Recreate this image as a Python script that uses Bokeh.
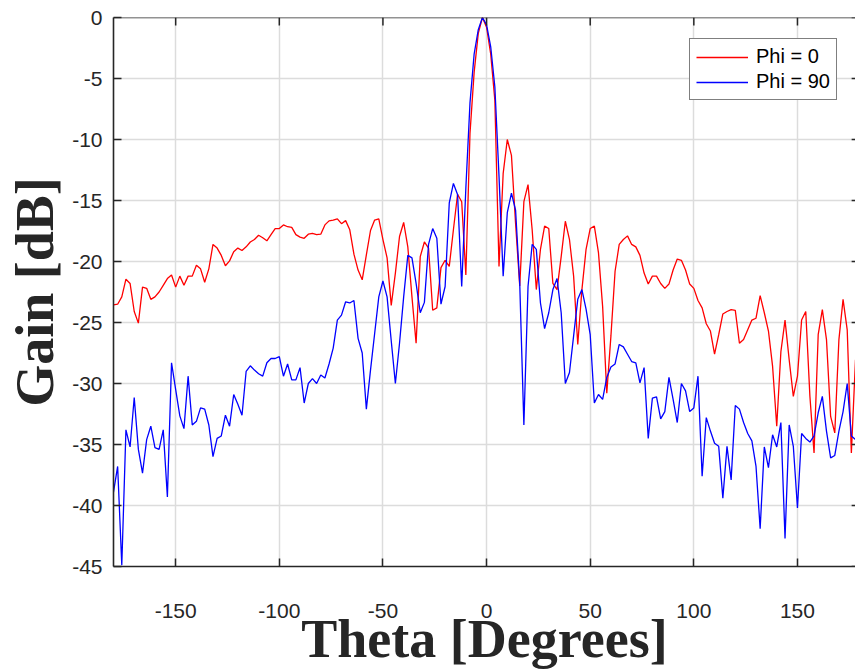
from bokeh.plotting import figure
from bokeh.models import Range1d, FixedTicker, Legend, LegendItem, Span, PrintfTickFormatter
from bokeh.embed import file_html
from bokeh.resources import INLINE

theta = list(range(-180, 181, 2))

gain_phi0 = [
    -23.55, -23.5, -22.9, -21.45, -21.8, -24.1, -25.05, -22.1, -22.2, -23.1,
    -22.9, -22.5, -21.95, -21.4, -21.1, -22.1, -21.2, -21.95, -21.2, -21.2,
    -20.3, -20.6, -21.7, -20.6, -18.6, -18.9, -19.5, -20.35, -19.95, -19.2,
    -18.9, -19.1, -18.8, -18.4, -18.2, -17.85, -18.05, -18.3, -17.8, -17.3,
    -17.3, -17.0, -17.15, -17.2, -17.8, -18.0, -18.1, -17.76, -17.7, -17.8,
    -17.76, -17.0, -16.67, -16.6, -16.5, -16.9, -16.65, -17.4, -19.4, -20.7,
    -21.5, -19.45, -17.46, -16.6, -16.5, -18.2, -19.7, -23.6, -20.95, -17.95,
    -16.8, -18.8, -22.9, -26.7, -19.6, -18.4, -18.9, -24.0, -23.8, -20.5,
    -19.9, -20.4, -17.4, -14.5, -15.1, -21.1, -9.5, -4.5, -1.3, 0.0,
    -0.8, -3.0, -6.8, -20.4, -12.8, -10.0, -11.3, -16.9, -22.0, -15.1,
    -13.7, -17.4, -22.3, -19.0, -17.1, -17.3, -21.8, -22.3, -19.6, -16.7,
    -18.2, -21.2, -26.8, -22.3, -19.0, -17.3, -17.1, -19.3, -23.7, -30.8,
    -26.1, -20.8, -18.6, -18.2, -17.9, -18.6, -18.8, -19.5, -20.95, -21.85,
    -21.2, -21.2, -21.8, -22.2, -21.85, -20.7, -19.8, -19.9, -20.7, -21.85,
    -22.2, -23.2, -23.8, -25.1, -25.7, -27.6, -26.0, -24.3, -24.1, -23.95,
    -24.0, -26.7, -26.4, -25.6, -24.8, -24.65, -22.8, -24.2, -25.7, -28.6,
    -33.5, -27.4, -24.8, -28.05, -31.05, -29.4, -24.8, -24.1, -31.05, -35.7,
    -26.0, -23.95, -26.4, -32.7, -34.05, -26.4, -23.1, -25.6, -35.7, -28.05,
    -29.0,
]

gain_phi90 = [
    -38.9, -36.8, -44.9, -33.8, -35.2, -31.15, -35.4, -37.35, -34.6, -33.5,
    -35.25, -35.4, -33.8, -39.3, -28.3, -30.5, -32.65, -33.7, -29.4, -33.4,
    -33.1, -32.0, -32.1, -33.4, -36.0, -34.5, -34.3, -32.6, -33.5, -30.9,
    -31.7, -32.6, -29.0, -28.55, -28.9, -29.2, -29.4, -28.3, -27.95, -27.95,
    -27.8, -29.4, -28.4, -29.7, -29.7, -28.7, -31.6, -30.0, -29.6, -30.0,
    -29.3, -29.55, -28.4, -27.1, -24.8, -24.4, -23.3, -23.4, -23.2, -26.3,
    -27.5, -32.1, -28.9, -25.9, -22.9, -21.6, -22.9, -26.5, -30.0, -26.7,
    -22.9, -19.5, -19.7, -21.8, -24.2, -23.35, -18.6, -17.3, -18.1, -23.5,
    -22.05, -15.2, -13.6, -14.5, -22.05, -14.0, -7.0, -3.0, -1.0, 0.0,
    -0.6, -2.4, -5.7, -13.0, -21.2, -16.0, -14.4, -15.8, -21.8, -33.4,
    -22.05, -18.6, -19.0, -23.4, -25.5, -24.2, -22.3, -21.4, -24.2, -30.0,
    -29.1, -26.1, -23.1, -22.3, -23.9, -26.0, -31.6, -30.9, -31.3, -29.5,
    -28.65, -28.4, -26.8, -27.0, -27.6, -28.2, -28.3, -29.95, -28.7, -34.5,
    -31.2, -31.1, -32.9, -32.3, -29.5, -31.3, -33.2, -30.0, -30.6, -32.3,
    -32.0, -29.4, -37.6, -32.8, -33.9, -34.9, -35.15, -39.4, -35.15, -37.9,
    -31.8, -32.1, -33.2, -34.1, -34.7, -36.8, -41.9, -35.2, -36.9, -34.2,
    -35.2, -33.2, -42.7, -33.4, -35.15, -40.2, -34.1, -34.5, -34.8, -34.3,
    -32.4, -31.05, -33.9, -36.1, -35.9, -33.9, -32.3, -30.0, -34.3, -34.6,
    -34.0,
]

x_ticks = [-150, -100, -50, 0, 50, 100, 150]
y_ticks = [0, -5, -10, -15, -20, -25, -30, -35, -40, -45]
series_labels = ["Phi = 0", "Phi = 90"]

AX = "#262626"
SANS = "'Liberation Sans', Arial, sans-serif"
SERIF = "'Liberation Serif', 'Times New Roman', serif"

X0, X1, Y0, Y1 = -180, 178, -45, 0
X_BOX = 180  # right edge of the axes box (just outside the visible window)

p = figure(width=855, height=671, output_backend="svg", toolbar_location=None,
           x_range=Range1d(X0, X1), y_range=Range1d(Y0, Y1),
           min_border_left=113, min_border_right=0, min_border_top=17,
           min_border_bottom=104, background_fill_color="white",
           border_fill_color="white")
p.outline_line_color = None

p.xgrid.ticker = FixedTicker(ticks=x_ticks)
p.ygrid.ticker = FixedTicker(ticks=y_ticks)
p.xgrid.grid_line_color = "#dcdcdc"
p.ygrid.grid_line_color = "#dcdcdc"
p.xgrid.grid_line_width = 1.5
p.ygrid.grid_line_width = 1.5

r0 = p.line(theta, gain_phi0, line_color="#ff0000", line_width=1.3)
r1 = p.line(theta, gain_phi90, line_color="#0000ff", line_width=1.3)

for ax in (p.xaxis[0], p.yaxis[0]):
    ax.axis_line_color = AX
    ax.axis_line_width = 1.6
    ax.major_tick_line_color = AX
    ax.major_tick_line_width = 1.5
    ax.major_tick_in = 8
    ax.major_tick_out = 0
    ax.minor_tick_line_color = None
    ax.formatter = PrintfTickFormatter(format="%d")
    ax.major_label_text_font = SANS
    ax.major_label_text_font_size = "21px"
    ax.major_label_text_color = AX
    ax.axis_label_text_font = SERIF
    ax.axis_label_text_font_style = "bold"
    ax.axis_label_text_font_size = "54px"
    ax.axis_label_text_color = AX

p.xaxis[0].ticker = FixedTicker(ticks=x_ticks)
p.yaxis[0].ticker = FixedTicker(ticks=y_ticks)
p.xaxis[0].axis_label = "Theta [Degrees]"
p.yaxis[0].axis_label = "Gain [dB]"
p.xaxis[0].major_label_standoff = 37
p.xaxis[0].axis_label_standoff = -12
p.yaxis[0].major_label_standoff = 11
p.yaxis[0].axis_label_standoff = 4

# top edge of the box with inward ticks
p.add_layout(Span(location=Y1, dimension="width", line_color=AX, line_width=1.6))
tick_len_y = 8 * (Y1 - Y0) / 550.0
p.segment(x0=x_ticks, y0=[Y1] * len(x_ticks), x1=x_ticks,
          y1=[Y1 - tick_len_y] * len(x_ticks), line_color=AX, line_width=1.5)

# right edge ticks (box edge lies just beyond the window)
tick_len_x = 8 * (X1 - X0) / 742.0
p.segment(x0=[X_BOX] * len(y_ticks), y0=y_ticks,
          x1=[X_BOX - tick_len_x] * len(y_ticks), y1=y_ticks,
          line_color=AX, line_width=1.5)

legend = Legend(items=[LegendItem(label=series_labels[0], renderers=[r0]),
                       LegendItem(label=series_labels[1], renderers=[r1])],
                location=(576, 466), orientation="vertical",
                border_line_color="#000000", border_line_width=1,
                background_fill_color="white", background_fill_alpha=1,
                label_text_font=SANS, label_text_font_size="20px",
                label_text_color="#000000",
                glyph_width=52, glyph_height=20, label_height=20,
                padding=6, spacing=2, label_standoff=8, margin=0)
p.add_layout(legend, "center")

open("out.html", "w").write(file_html(p, INLINE))
